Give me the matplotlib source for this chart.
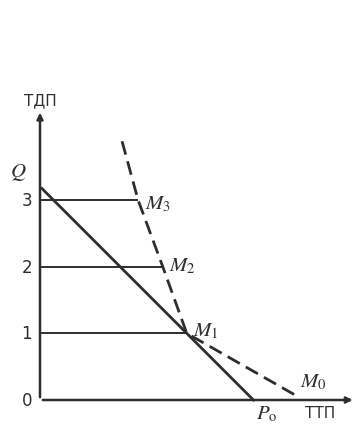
import matplotlib.pyplot as plt

plt.rcParams['mathtext.fontset'] = 'stix'

# values (axis units)
levels = [1, 2, 3]
level_labels = ['0', '1', '2', '3']
q_intercept = 3.2
p0 = 3.2
# dashed curve: top end, M3, M2, M1, M0
curve_x = [1.23, 1.47, 1.84, 2.2, 3.85]
curve_y = [3.88, 3.0, 2.0, 1.0, 0.06]
point_names = [r'$M_3$', r'$M_2$', r'$M_1$', r'$M_0$']

S = 66.7  # pixels per unit
fig = plt.figure(figsize=(3.57, 4.35), dpi=100)
ax = fig.add_axes([0, 0, 1, 1])
ax.set_xlim(-40 / S, (357 - 40) / S)
ax.set_ylim(-(435 - 401) / S, 401 / S)
ax.axis('off')
ink = '#2e2e2e'

# axes with arrows
ax.annotate('', xy=(0, 4.35), xytext=(0, 0),
            arrowprops=dict(arrowstyle='-|>', color=ink, lw=1.8, mutation_scale=9))
ax.annotate('', xy=(4.73, 0), xytext=(0, 0),
            arrowprops=dict(arrowstyle='-|>', color=ink, lw=1.8, mutation_scale=9))

# horizontal levels up to the dashed curve
for lv, cx in zip(levels, [curve_x[3], curve_x[2], curve_x[1]]):
    ax.plot([0, cx], [lv, lv], color=ink, lw=1.4, solid_capstyle='butt')

# straight solid line Q -> P0
ax.plot([0.03, p0], [q_intercept - 0.03, 0], color=ink, lw=2.0)

# dashed curve
ax.plot(curve_x, curve_y, color=ink, lw=2.0, ls=(0, (5, 2.5)))

# tick labels
for i, lab in enumerate(level_labels):
    ax.text(-0.12, i, lab, ha='right', va='center', fontsize=12, color=ink,
            family='DejaVu Sans')

ax.text(0.0, 4.5, 'ТДП', ha='center', va='center', fontsize=11, color=ink,
        family='DejaVu Sans')
ax.text(4.2, -0.18, 'ТТП', ha='center', va='center', fontsize=11, color=ink,
        family='DejaVu Sans')
ax.text(-0.33, 3.42, r'$Q$', ha='center', va='center', fontsize=15, color=ink)
ax.text(p0 + 0.2, -0.2, r'$P_{\rm o}$', ha='center', va='center', fontsize=15, color=ink)

offsets = [(0.1, -0.05), (0.1, 0.03), (0.1, 0.05), (0.05, 0.23)]
pts = [(curve_x[1], curve_y[1]), (curve_x[2], curve_y[2]),
       (curve_x[3], curve_y[3]), (curve_x[4], curve_y[4])]
for name, (px, py), (dx, dy) in zip(point_names, pts, offsets):
    ax.text(px + dx, py + dy, name, ha='left', va='center', fontsize=15, color=ink)

fig.savefig('out.png', dpi=100, facecolor='white')
